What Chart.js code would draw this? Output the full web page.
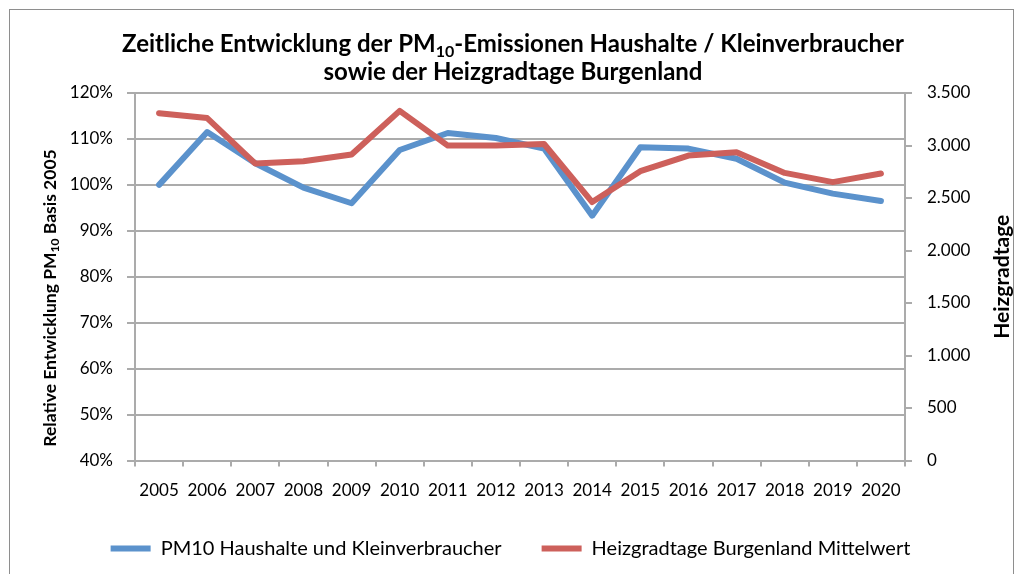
<!DOCTYPE html>
<html>
<head>
<meta charset="utf-8">
<script src="https://cdn.jsdelivr.net/npm/chart.js@4.4.1/dist/chart.umd.min.js"></script>
<style>
  html, body { margin: 0; padding: 0; background: #fff; overflow: hidden; }
  #frame { position: absolute; left: 9px; top: 9px; width: 1003px; height: 600px; border: 1px solid #8e8e8e; }
  #wrap { position: absolute; left: 0; top: 0; width: 1021px; height: 574px; }
</style>
</head>
<body>
<div id="frame"></div>
<div id="wrap"><canvas id="chart" width="1021" height="574"></canvas></div>
<script>
const years = ['2005', '2006', '2007', '2008', '2009', '2010', '2011', '2012',
               '2013', '2014', '2015', '2016', '2017', '2018', '2019', '2020'];
// relative Entwicklung PM10 (Basis 2005 = 100 %)
const pm10 = [100, 111.5, 104.7, 99.4, 96.0, 107.6, 111.3, 110.2,
              107.9, 93.3, 108.2, 107.9, 105.7, 100.5, 98.1, 96.5];
// Heizgradtage Burgenland Mittelwert
const heizgradtage = [3308, 3261, 2828, 2850, 2914, 3330, 2999, 2999,
                      3014, 2461, 2755, 2904, 2936, 2739, 2651, 2733];

const FONT = 'Lato, "Open Sans", sans-serif';
const BLUE = '#5b92cc';
const RED = '#cd605b';
const GRID = '#ababab';

// text with subscript parts, centred on x/y
function drawRuns(ctx, runs, x, y, size) {
    const base = 'bold ' + size + 'px ' + FONT;
    const sub = 'bold ' + Math.round(size * 0.68) + 'px ' + FONT;
    let w = 0;
    runs.forEach(r => {
        ctx.font = r.sub ? sub : base;
        r.w = ctx.measureText(r.t).width;
        w += r.w;
    });
    let cx = x - w / 2;
    ctx.textAlign = 'left';
    ctx.textBaseline = 'middle';
    runs.forEach(r => {
        ctx.font = r.sub ? sub : base;
        ctx.fillText(r.t, cx, y + (r.sub ? size * 0.32 : 0));
        cx += r.w;
    });
}

const titlesPlugin = {
    id: 'titles',
    afterDraw(chart) {
        const ctx = chart.ctx;
        ctx.save();
        ctx.fillStyle = '#000';
        drawRuns(ctx, [
            { t: 'Zeitliche Entwicklung der PM' },
            { t: '10', sub: true },
            { t: '-Emissionen Haushalte / Kleinverbraucher' }
        ], 513, 44, 24);
        drawRuns(ctx, [{ t: 'sowie der Heizgradtage Burgenland' }], 513, 72, 24);

        ctx.save();
        ctx.translate(50, 298);
        ctx.rotate(-Math.PI / 2);
        drawRuns(ctx, [
            { t: 'Relative Entwicklung PM' },
            { t: '10', sub: true },
            { t: ' Basis 2005' }
        ], 0, 0, 17.5);
        ctx.restore();

        ctx.save();
        const a = chart.chartArea;
        ctx.translate(1002, (a.top + a.bottom) / 2);
        ctx.rotate(-Math.PI / 2);
        drawRuns(ctx, [{ t: 'Heizgradtage' }], 0, 0, 21);
        ctx.restore();
        ctx.restore();
    }
};

new Chart(document.getElementById('chart'), {
    type: 'line',
    data: {
        labels: years,
        datasets: [{
            label: 'PM10 Haushalte und Kleinverbraucher',
            data: pm10,
            yAxisID: 'y',
            borderColor: BLUE,
            backgroundColor: BLUE,
            borderWidth: 6,
            pointRadius: 0,
            borderJoinStyle: 'round',
            borderCapStyle: 'round',
            tension: 0,
            order: 1
        }, {
            label: 'Heizgradtage Burgenland Mittelwert',
            data: heizgradtage,
            yAxisID: 'y1',
            borderColor: RED,
            backgroundColor: RED,
            borderWidth: 6,
            pointRadius: 0,
            borderJoinStyle: 'round',
            borderCapStyle: 'round',
            tension: 0,
            order: 0
        }]
    },
    options: {
        responsive: false,
        animation: false,
        layout: { padding: { top: 93, bottom: 5.5, left: 0, right: 0 } },
        scales: {
            x: {
                offset: true,
                grid: { display: true, drawOnChartArea: false, offset: true, tickLength: 6, color: GRID, lineWidth: 2 },
                border: { color: GRID, width: 2 },
                ticks: { font: { family: FONT, size: 17 }, color: '#000', padding: 14, maxRotation: 0, autoSkip: false },
                afterFit(s) { s.height = 38; }
            },
            y: {
                position: 'left',
                min: 40,
                max: 120,
                grid: { color: GRID, lineWidth: 2, tickLength: 8 },
                border: { color: GRID, width: 2 },
                ticks: {
                    stepSize: 10,
                    font: { family: FONT, size: 17 },
                    color: '#000',
                    padding: 14,
                    callback: v => v + '%'
                },
                afterFit(s) { s.width = 135; }
            },
            y1: {
                position: 'right',
                min: 0,
                max: 3500,
                grid: { drawOnChartArea: false, color: GRID, lineWidth: 2, tickLength: 7 },
                border: { color: GRID, width: 2 },
                ticks: {
                    stepSize: 500,
                    font: { family: FONT, size: 17 },
                    color: '#000',
                    padding: 15,
                    callback: v => v.toLocaleString('de-DE')
                },
                afterFit(s) { s.width = 116; }
            }
        },
        plugins: {
            legend: {
                position: 'bottom',
                labels: {
                    usePointStyle: true,
                    pointStyle: 'line',
                    pointStyleWidth: 40,
                    padding: 40,
                    color: '#000',
                    font: { family: FONT, size: 20 },
                    sort: (a, b) => a.datasetIndex - b.datasetIndex
                }
            },
            tooltip: { enabled: false },
            title: { display: false }
        }
    },
    plugins: [titlesPlugin]
});
</script>
</body>
</html>
